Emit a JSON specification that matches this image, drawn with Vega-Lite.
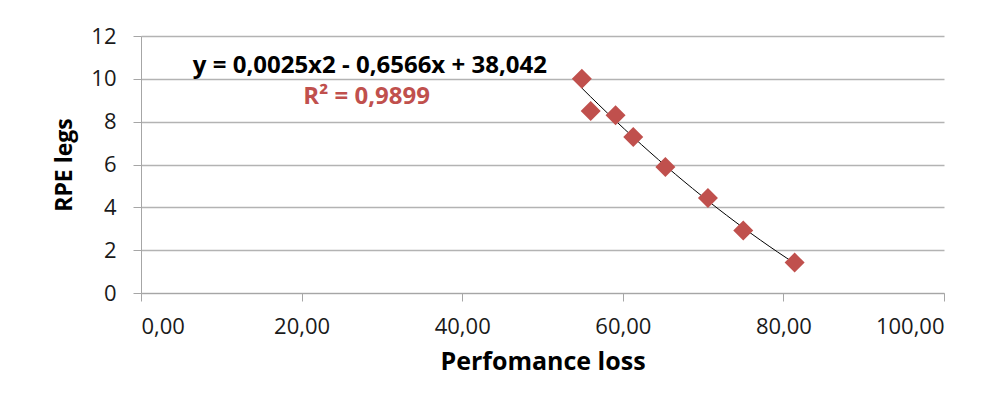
{
  "$schema": "https://vega.github.io/schema/vega-lite/v6.json",
  "width": 803,
  "height": 257,
  "autosize": {"type": "none"},
  "padding": {"left": 141, "top": 36, "right": 60, "bottom": 118},
  "background": "white",
  "config": {
    "view": {"stroke": null},
    "font": "Open Sans"
  },
  "data": {
    "values": [
      {"loss": 54.9, "rpe": 10.0},
      {"loss": 56.0, "rpe": 8.5},
      {"loss": 59.1, "rpe": 8.3},
      {"loss": 61.3, "rpe": 7.28},
      {"loss": 65.3, "rpe": 5.88},
      {"loss": 70.6, "rpe": 4.43},
      {"loss": 75.0, "rpe": 2.92},
      {"loss": 81.4, "rpe": 1.42}
    ]
  },
  "layer": [
    {
      "transform": [{"regression": "rpe", "on": "loss", "method": "poly", "order": 2}],
      "mark": {"type": "line", "color": "black", "strokeWidth": 1},
      "encoding": {
        "x": {"field": "loss", "type": "quantitative"},
        "y": {"field": "rpe", "type": "quantitative"}
      }
    },
    {
      "mark": {"type": "point", "shape": "diamond", "filled": true, "color": "#c0504d", "size": 400, "opacity": 1},
      "encoding": {
        "x": {
          "field": "loss", "type": "quantitative",
          "scale": {"domain": [0, 100], "nice": false, "zero": false},
          "axis": {
            "title": "Perfomance loss",
            "values": [0, 20, 40, 60, 80, 100],
            "labelExpr": "replace(format(datum.value, '.2f'), '.', ',')",
            "grid": false,
            "domainColor": "#a6a6a6",
            "tickColor": "#a6a6a6",
            "tickSize": 8,
            "labelPadding": 15,
            "labelFontSize": 22,
            "labelColor": "#1a1a1a",
            "titleFontSize": 25,
            "titleFontWeight": "bold",
            "titleColor": "#000000",
            "titlePadding": 12
          }
        },
        "y": {
          "field": "rpe", "type": "quantitative",
          "scale": {"domain": [0, 12], "nice": false},
          "axis": {
            "title": "RPE legs",
            "values": [0, 2, 4, 6, 8, 10, 12],
            "grid": true,
            "gridColor": "#b3b3b3",
            "gridWidth": 1.5,
            "domainColor": "#a6a6a6",
            "tickColor": "#a6a6a6",
            "tickSize": 8,
            "labelPadding": 17,
            "labelFontSize": 22,
            "labelColor": "#1a1a1a",
            "titleFontSize": 23,
            "titleFontWeight": "bold",
            "titleColor": "#000000",
            "titlePadding": 14
          }
        }
      }
    },
    {
      "data": {"values": [{"label": "y = 0,0025x2 - 0,6566x + 38,042"}]},
      "mark": {"type": "text", "fontSize": 24, "fontWeight": "bold", "color": "black", "align": "center", "baseline": "middle"},
      "encoding": {
        "x": {"datum": 28.5, "type": "quantitative"},
        "y": {"datum": 10.6, "type": "quantitative"},
        "text": {"field": "label"}
      }
    },
    {
      "data": {"values": [{"label": "R² = 0,9899"}]},
      "mark": {"type": "text", "fontSize": 24, "fontWeight": "bold", "color": "#c0504d", "align": "center", "baseline": "middle"},
      "encoding": {
        "x": {"datum": 28.1, "type": "quantitative"},
        "y": {"datum": 9.15, "type": "quantitative"},
        "text": {"field": "label"}
      }
    }
  ]
}
